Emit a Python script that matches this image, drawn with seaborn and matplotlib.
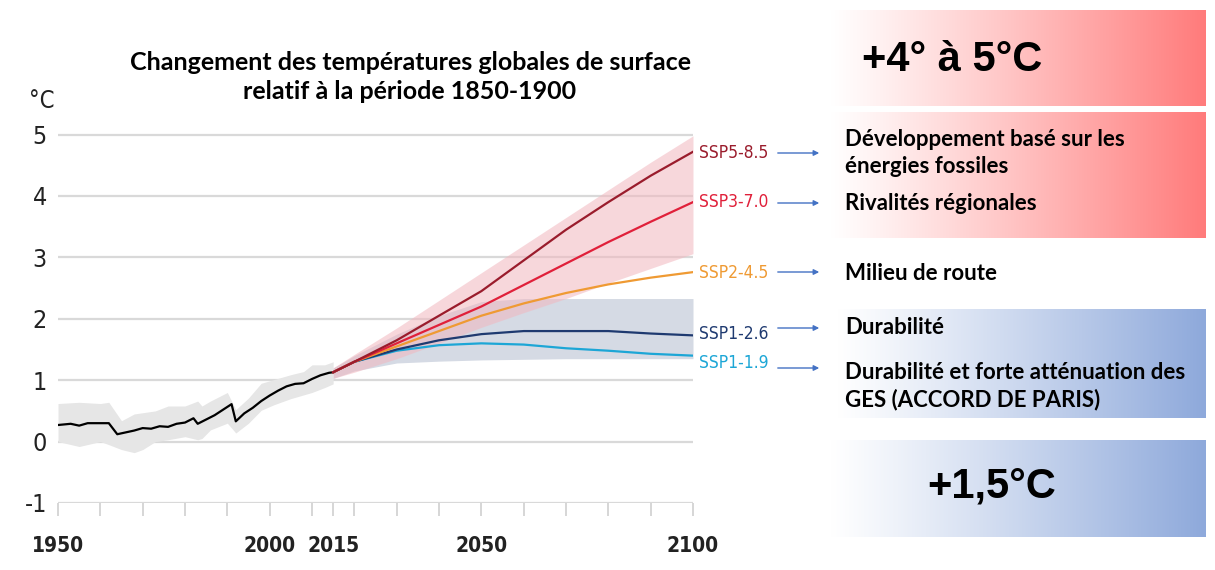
import matplotlib
matplotlib.use("Agg")
import matplotlib.pyplot as plt
import numpy as np
import pandas as pd
import seaborn as sns

# -- observed warming 1950-2015
hist_years = [1950, 1953, 1955, 1957, 1960, 1962, 1964, 1966, 1968, 1970, 1972, 1974, 1976,
              1978, 1980, 1982, 1983, 1985, 1987, 1989, 1991, 1992, 1994, 1996, 1998, 2000,
              2002, 2004, 2006, 2008, 2010, 2012, 2014, 2015]
hist_vals = [0.27, 0.29, 0.26, 0.30, 0.30, 0.30, 0.12, 0.15, 0.18, 0.22, 0.21, 0.25, 0.24,
             0.29, 0.31, 0.38, 0.29, 0.36, 0.43, 0.52, 0.61, 0.33, 0.46, 0.55, 0.66, 0.75,
             0.83, 0.90, 0.94, 0.95, 1.02, 1.08, 1.12, 1.13]
band_years = [1950, 1955, 1960, 1962, 1965, 1968, 1970, 1973, 1976, 1980, 1983, 1984, 1986,
              1990, 1992, 1995, 1998, 2001, 2005, 2008, 2010, 2013, 2015]
band_low = [0.00, -0.08, 0.00, -0.05, -0.13, -0.18, -0.13, 0.00, 0.03, 0.08, 0.03, 0.05, 0.19,
            0.30, 0.14, 0.30, 0.51, 0.60, 0.70, 0.76, 0.80, 0.88, 0.94]
band_high = [0.62, 0.64, 0.62, 0.64, 0.34, 0.45, 0.47, 0.50, 0.58, 0.58, 0.66, 0.58, 0.66,
             0.80, 0.52, 0.71, 0.95, 1.01, 1.09, 1.14, 1.25, 1.25, 1.30]

# -- scenario projections 2015-2100
proj_years = [2015, 2020, 2030, 2040, 2050, 2060, 2070, 2080, 2090, 2100]
ssp585 = [1.13, 1.30, 1.65, 2.05, 2.45, 2.95, 3.45, 3.90, 4.33, 4.72]
ssp370 = [1.13, 1.30, 1.60, 1.90, 2.20, 2.55, 2.90, 3.25, 3.58, 3.90]
ssp245 = [1.13, 1.30, 1.55, 1.80, 2.05, 2.25, 2.42, 2.56, 2.67, 2.76]
ssp126 = [1.13, 1.30, 1.50, 1.65, 1.75, 1.80, 1.80, 1.80, 1.76, 1.73]
ssp119 = [1.13, 1.30, 1.48, 1.57, 1.60, 1.58, 1.52, 1.48, 1.43, 1.40]
red_low = [1.03, 1.13, 1.35, 1.60, 1.86, 2.10, 2.33, 2.58, 2.82, 3.06]
red_high = [1.20, 1.42, 1.85, 2.30, 2.75, 3.20, 3.65, 4.10, 4.55, 4.98]
blue_low = [1.03, 1.15, 1.28, 1.31, 1.33, 1.34, 1.35, 1.35, 1.35, 1.35]
blue_high = [1.20, 1.40, 1.75, 2.05, 2.28, 2.33, 2.33, 2.33, 2.33, 2.33]

scenarios = ["SSP5-8.5", "SSP3-7.0", "SSP2-4.5", "SSP1-2.6", "SSP1-1.9"]
label_y = [4.70, 3.90, 2.75, 1.76, 1.28]
descriptions = ["Développement basé sur les\nénergies fossiles", "Rivalités régionales",
                "Milieu de route", "Durabilité",
                "Durabilité et forte atténuation des\nGES (ACCORD DE PARIS)"]
palette = {"SSP5-8.5": "#9a1c2c", "SSP3-7.0": "#e0203a", "SSP2-4.5": "#ef9a33",
           "SSP1-2.6": "#1f3a70", "SSP1-1.9": "#1ca6d6"}

# condensed face if the DejaVu condensed files are present
narrow = dict(fontfamily="DejaVu Sans", fontstretch="condensed")
plt.rcParams["font.family"] = ["Lato", "DejaVu Sans"]

proj = pd.DataFrame({"year": proj_years * 5,
                     "temp": ssp585 + ssp370 + ssp245 + ssp126 + ssp119,
                     "scenario": np.repeat(scenarios, len(proj_years))})
hist = pd.DataFrame({"year": hist_years, "temp": hist_vals})

fig = plt.figure(figsize=(12.15, 5.7), dpi=100)
ax = fig.add_axes([58 / 1215, (570 - 503) / 570, 635 / 1215, 380.7 / 570])

for y in range(-1, 6):
    ax.axhline(y, color="#d9d9d9", lw=1.6, zorder=0)

ax.fill_between(band_years, band_low, band_high, color="#e6e6e6", lw=0, zorder=1)
ax.fill_between(proj_years, blue_low, blue_high, color="#d5dae4", lw=0, zorder=1)
ax.fill_between(proj_years, red_low, red_high, color="#f2b7bf", alpha=0.55, lw=0, zorder=2)

sns.lineplot(data=hist, x="year", y="temp", color="black", lw=1.6, ax=ax, zorder=3)
sns.lineplot(data=proj, x="year", y="temp", hue="scenario", palette=palette,
             hue_order=scenarios[::-1], lw=1.6, legend=False, ax=ax, zorder=4)

ax.set_xlim(1950, 2100)
ax.set_ylim(-1, 5.2)
ax.set_xlabel("")
ax.set_ylabel("")
for s in ax.spines.values():
    s.set_visible(False)

ax.set_xticks([1950, 2000, 2015, 2050, 2100])
ax.set_xticks([1960, 1970, 1980, 1990, 2010, 2020, 2030, 2040, 2060, 2070, 2080, 2090],
              minor=True)
ax.tick_params(axis="x", which="both", length=9, width=1.2, color="#cfcfcf", pad=15)
ax.set_xticklabels(["1950", "2000", "2015", "2050", "2100"], fontsize=15,
                   fontweight="bold", color="#222222", **narrow)
ax.set_yticks(range(-1, 6))
ax.tick_params(axis="y", length=0, pad=8)
ax.set_yticklabels([str(v) for v in range(-1, 6)], fontsize=18, color="#222222", **narrow)
ax.text(-0.025, 5.55, "°C", fontsize=17, ha="center", va="center",
        color="#222222", transform=ax.get_yaxis_transform(), **narrow)

for name, ly in zip(scenarios, label_y):
    ax.text(2101.5, ly, name, fontsize=12.5, color=palette[name],
            ha="left", va="center", clip_on=False, **narrow)

# -- overlay in pixel coordinates for the right-hand panel
ov = fig.add_axes([0, 0, 1, 1], zorder=-1)
ov.set_xlim(0, 1215)
ov.set_ylim(570, 0)
ov.axis("off")
top = fig.add_axes([0, 0, 1, 1])
top.set_xlim(0, 1215)
top.set_ylim(570, 0)
top.axis("off")


def gradient(x0, x1, y0, y1, color):
    rgb = np.array(matplotlib.colors.to_rgb(color))
    t = np.linspace(0, 1, 256) ** 1.1
    img = (1 - t)[:, None] * np.ones(3) + t[:, None] * rgb
    ov.imshow(img[None, :, :], extent=[x0, x1, y1, y0], aspect="auto", zorder=0)


gradient(830, 1206, 10, 106, "#ff7b7b")
gradient(830, 1206, 112, 238, "#ff7b7b")
gradient(837, 1206, 309, 418, "#8ea9db")
gradient(830, 1206, 440, 537, "#8ea9db")

top.text(952, 60, "+4° à 5°C", fontsize=30, fontweight="bold", family="Liberation Sans",
         ha="center", va="center")
top.text(992, 486, "+1,5°C", fontsize=30, fontweight="bold", family="Liberation Sans",
         ha="center", va="center")

top.text(410, 77, "Changement des températures globales de surface\nrelatif à la période 1850-1900",
         fontsize=18, fontweight="bold", ha="center", va="center", linespacing=1.3)

desc_y = [153, 203, 273, 328, 386]
arrow_y = [153, 203, 272, 328, 368]
for d, dy, ay in zip(descriptions, desc_y, arrow_y):
    top.annotate("", xy=(822, ay), xytext=(775, ay),
                 arrowprops=dict(arrowstyle="-|>", color="#4472c4", lw=1.0,
                                 mutation_scale=8))
    top.text(845, dy, d, fontsize=16, fontweight="bold", ha="left", va="center",
             linespacing=1.35)

fig.savefig("out.png", dpi=100)
